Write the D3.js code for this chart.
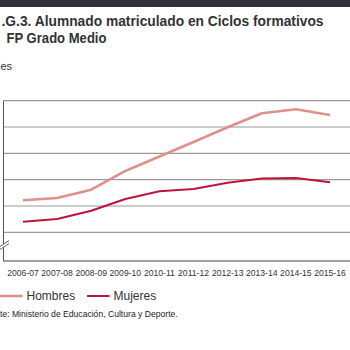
<!DOCTYPE html>
<html>
<head>
<meta charset="utf-8">
<script src="https://cdn.jsdelivr.net/npm/d3@7"></script>
<style>
  body { margin: 0; background: #fff; }
  svg { display: block; }
</style>
</head>
<body>
<div id="chart"></div>
<script>
const width = 350;
const height = 350;

// data (miles de alumnos)
const cursos = ["2006-07", "2007-08", "2008-09", "2009-10", "2010-11", "2011-12", "2012-13", "2013-14", "2014-15", "2015-16"];
const hombres = [124.3, 126.1, 132.4, 146.6, 157.6, 168.6, 179.8, 190.5, 193.5, 189.2];
const mujeres = [108.1, 110.1, 116.4, 125.3, 131.2, 132.9, 137.7, 140.8, 141.3, 138.0];
const yTicks = [100, 120, 140, 160, 180, 200];

const svg = d3.select("#chart")
    .append("svg")
    .attr("width", width)
    .attr("height", height);

// dark band at the top
svg.append("rect")
    .attr("x", 0).attr("y", 0)
    .attr("width", width).attr("height", 7)
    .attr("fill", "#2f3236");

// title
svg.append("text")
    .attr("x", 1.5).attr("y", 26)
    .attr("font-family", "Liberation Sans, Arial, sans-serif")
    .attr("font-weight", "bold")
    .attr("font-size", 14.5)
    .attr("fill", "#333")
    .attr("textLength", 322)
    .attr("lengthAdjust", "spacingAndGlyphs")
    .text(".G.3. Alumnado matriculado en Ciclos formativos");
svg.append("text")
    .attr("x", 6.5).attr("y", 42.5)
    .attr("font-family", "Liberation Sans, Arial, sans-serif")
    .attr("font-weight", "bold")
    .attr("font-size", 14.5)
    .attr("fill", "#333")
    .attr("textLength", 100)
    .attr("lengthAdjust", "spacingAndGlyphs")
    .text("FP Grado Medio");

// unit label (partly cut off at the left)
svg.append("text")
    .attr("x", 12).attr("y", 69.5)
    .attr("text-anchor", "end")
    .attr("font-family", "Liberation Sans, Arial, sans-serif")
    .attr("font-size", 11)
    .attr("fill", "#333")
    .text("Miles");

const x = d3.scalePoint()
    .domain(cursos)
    .range([23, 330]);

const y = d3.scaleLinear()
    .domain([100, 200])
    .range([232.3, 100.7]);

const axisY = 261;

// grid lines
svg.append("g")
    .selectAll("line")
    .data(yTicks)
    .enter()
    .append("line")
    .attr("x1", 3.5).attr("x2", width)
    .attr("y1", d => y(d)).attr("y2", d => y(d))
    .attr("stroke", "#9a9a9a")
    .attr("stroke-width", 1.2);

// y axis line
svg.append("line")
    .attr("x1", 3.5).attr("x2", 3.5)
    .attr("y1", y(200)).attr("y2", axisY)
    .attr("stroke", "#555")
    .attr("stroke-width", 1);

// break marks
const brk = svg.append("g");
brk.append("polygon")
    .attr("points", "0,246.5 9,240.5 9,243.5 0,249.5")
    .attr("fill", "#fff");
[0, 3].forEach(o => {
    brk.append("line")
        .attr("x1", 0).attr("y1", 246.5 + o)
        .attr("x2", 9).attr("y2", 240.5 + o)
        .attr("stroke", "#555")
        .attr("stroke-width", 0.9);
});

// x axis line
svg.append("line")
    .attr("x1", 3).attr("x2", width)
    .attr("y1", axisY).attr("y2", axisY)
    .attr("stroke", "#444")
    .attr("stroke-width", 1.2);

// x tick labels
svg.append("g")
    .selectAll("text")
    .data(cursos)
    .enter()
    .append("text")
    .attr("x", d => x(d))
    .attr("y", 275.5)
    .attr("text-anchor", "middle")
    .attr("font-family", "Liberation Sans, Arial, sans-serif")
    .attr("font-size", 8.6)
    .attr("fill", "#333")
    .text(d => d);

// lines
const series = [
    { name: "Hombres", values: hombres, color: "#e0908b", w: 2.6 },
    { name: "Mujeres", values: mujeres, color: "#c0133c", w: 2 }
];

const line = d3.line()
    .x((d, i) => x(cursos[i]))
    .y(d => y(d));

series.forEach(s => {
    svg.append("path")
        .datum(s.values)
        .attr("d", line)
        .attr("fill", "none")
        .attr("stroke", s.color)
        .attr("stroke-width", s.w)
        .attr("stroke-linejoin", "round");
});

// legend
const legendX = [0, 87];
const legend = svg.selectAll(".legend")
    .data(series)
    .enter()
    .append("g")
    .attr("class", "legend")
    .attr("transform", (d, i) => `translate(${legendX[i]},296)`);

legend.append("line")
    .attr("x1", (d, i) => i === 0 ? -2 : 0)
    .attr("x2", 22.5)
    .attr("y1", 0).attr("y2", 0)
    .attr("stroke", d => d.color)
    .attr("stroke-width", d => d.w);

legend.append("text")
    .attr("x", 26.5)
    .attr("y", 4.2)
    .attr("font-family", "Liberation Sans, Arial, sans-serif")
    .attr("font-size", 12)
    .attr("fill", "#333")
    .text(d => d.name);

// source
svg.append("text")
    .attr("x", 0).attr("y", 316.5)
    .attr("font-family", "Liberation Sans, Arial, sans-serif")
    .attr("font-size", 8.6)
    .attr("fill", "#222")
    .text("te: Ministerio de Educación, Cultura y Deporte.");
</script>
</body>
</html>
